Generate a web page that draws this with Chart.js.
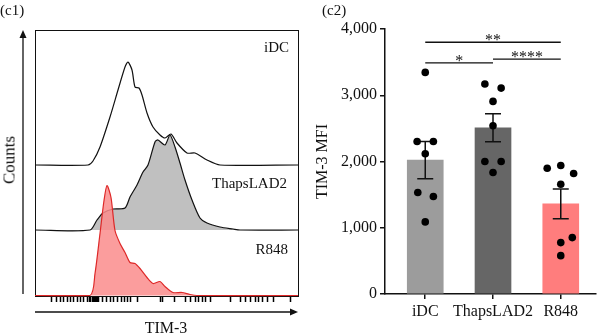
<!DOCTYPE html>
<html>
<head>
<meta charset="utf-8">
<script src="https://cdn.jsdelivr.net/npm/chart.js@4.4.1/dist/chart.umd.min.js"></script>
<style>
  body { margin: 0; background: #fff; }
  #wrap { position: relative; width: 600px; height: 336px; font-family: "Liberation Serif", serif; color: #111; }
  #wrap canvas { position: absolute; top: 0; }
  .lbl { position: absolute; font-size: 15px; line-height: 1; white-space: nowrap; }
</style>
</head>
<body>
<div id="wrap">
  <canvas id="histGraph" width="300" height="336" style="left:0"></canvas>
  <canvas id="mfiGraph" width="300" height="336" style="left:300px"></canvas>
  <div class="lbl" style="left:0;top:3px">(c1)</div>
  <div class="lbl" style="left:322px;top:3px">(c2)</div>
  <div class="lbl" style="left:9px;top:160px;font-size:17px;transform:translate(-50%,-50%) rotate(-90deg)">Counts</div>
  <div class="lbl" style="left:166px;top:328px;font-size:16px;transform:translate(-50%,-50%)">TIM-3</div>
  <div class="lbl" style="right:311px;top:40px">iDC</div>
  <div class="lbl" style="right:313px;top:176px">ThapsLAD2</div>
  <div class="lbl" style="right:312px;top:242px">R848</div>
</div>
<script>
// ---- (c1) histogram data: channel vs counts ----
const channel_iDC = [0, 53, 58, 65, 75, 83, 90, 93, 97, 100, 104, 107, 112, 118, 125, 130, 136, 142, 152, 160, 172, 185, 263];
const counts_iDC  = [0, 0, 4, 18, 48, 75, 98, 103, 95, 78, 77, 70, 52, 38, 30, 27, 31, 22, 12, 12, 5, 0, 0];
const channel_Thaps = [0, 55, 62, 68, 78, 90, 95, 102, 108, 113, 120, 123, 130, 135, 140, 145, 150, 157, 165, 172, 185, 198, 205, 263];
const counts_Thaps  = [0, 0, 10, 17, 21, 22, 33, 45, 58, 65, 88, 90, 85, 95, 83, 67, 50, 30, 12, 7, 3, 1, 0, 0];
const channel_R848 = [0, 55, 60, 65, 69, 72, 76, 80, 85, 90, 95, 100, 105, 112, 118, 125, 130, 138, 147, 155, 162, 263];
const counts_R848  = [0, 0, 22, 62, 95, 110, 98, 65, 52, 43, 33, 32, 27, 18, 12, 14, 9, 3, 3, 1, 0, 0];
const tickMarks = [16, 21, 25, 28, 32, 35, 38, 42, 45, 48, 52, 54, 55.5, 57, 58, 59, 60, 61, 62, 63, 67, 71, 75, 78, 82, 86, 89, 92, 95, 102, 125, 127, 139, 150, 155, 160, 163, 167, 170, 175, 195, 205, 210, 215, 220, 223, 227, 232, 238, 255];

// ---- (c2) bar data ----
const groups = ['iDC', 'ThapsLAD2', 'R848'];
const meanMFI = [2020, 2510, 1360];
const semMFI = [282, 212, 225];
const mfi_iDC   = [3345, 2302, 2302, 2116, 1531, 1471, 1088];
const mfi_Thaps = [3169, 3108, 2907, 2539, 2000, 2000, 1834];
const mfi_R848  = [1899, 1939, 1818, 1657, 851, 776, 579];
const yTicks = [0, 1000, 2000, 3000, 4000];
const sigPairs = [[0, 2, 3800, '**'], [0, 1, 3490, '*'], [1, 2, 3545, '****']];

// layout only: vertical offset of each histogram, horizontal jitter of dots
const histOffsets = [131, 66, 0.5];
const jitter_iDC   = [0, -0.12, 0.12, 0, -0.11, 0.12, 0];
const jitter_Thaps = [-0.12, 0.12, 0, 0, -0.12, 0.12, 0];
const jitter_R848  = [-0.2, 0, 0.19, 0, 0.17, 0, 0];

const SERIF = '"Liberation Serif", serif';

function toPoints(ch, counts, offset) {
  return ch.map((c, i) => ({ x: c, y: offset + counts[i] }));
}

const histFrame = {
  id: 'histFrame',
  beforeDatasetsDraw(chart) {
    const { ctx, chartArea: a } = chart;
    ctx.save();
    ctx.strokeStyle = '#111';
    ctx.lineWidth = 1;
    ctx.strokeRect(a.left + 0.5, a.top + 0.5, a.right - a.left, a.bottom - a.top);
    ctx.restore();
  },
  afterDraw(chart) {
    const { ctx, chartArea: a } = chart;
    ctx.save();
    ctx.strokeStyle = '#111';
    ctx.fillStyle = '#111';
    ctx.lineWidth = 1.3;
    // y arrow
    ctx.beginPath();
    ctx.moveTo(23, a.bottom - 2);
    ctx.lineTo(23, a.top + 6);
    ctx.stroke();
    ctx.beginPath();
    ctx.moveTo(23, a.top);
    ctx.lineTo(19.5, a.top + 8);
    ctx.lineTo(26.5, a.top + 8);
    ctx.closePath();
    ctx.fill();
    // x arrow
    ctx.beginPath();
    ctx.moveTo(a.left, 312);
    ctx.lineTo(a.right - 6, 312);
    ctx.stroke();
    ctx.beginPath();
    ctx.moveTo(a.right, 312);
    ctx.lineTo(a.right - 8, 308.5);
    ctx.lineTo(a.right - 8, 315.5);
    ctx.closePath();
    ctx.fill();
    ctx.restore();
  }
};

new Chart(document.getElementById('histGraph'), {
  type: 'line',
  data: {
    datasets: [{
      label: 'R848',
      data: toPoints(channel_R848, counts_R848, histOffsets[2]),
      borderColor: 'rgb(222, 40, 40)',
      backgroundColor: 'rgba(250, 140, 140, 0.85)',
      borderWidth: 1.2,
      fill: { value: histOffsets[2] },
      order: 0
    }, {
      label: 'ThapsLAD2',
      data: toPoints(channel_Thaps, counts_Thaps, histOffsets[1]),
      borderColor: '#111',
      backgroundColor: 'rgb(192, 192, 192)',
      borderWidth: 1.2,
      fill: { value: histOffsets[1] },
      order: 1
    }, {
      label: 'iDC',
      data: toPoints(channel_iDC, counts_iDC, histOffsets[0]),
      borderColor: '#111',
      borderWidth: 1.2,
      fill: false,
      order: 2
    }]
  },
  options: {
    responsive: false,
    animation: false,
    clip: false,
    elements: { point: { radius: 0 }, line: { tension: 0.25 } },
    layout: { padding: { left: 35, right: 2, top: 30, bottom: 34 } },
    plugins: { legend: { display: false }, tooltip: { enabled: false } },
    scales: {
      x: {
        type: 'linear',
        min: 0,
        max: 263,
        afterBuildTicks: (axis) => { axis.ticks = tickMarks.map(v => ({ value: v })); },
        border: { display: false },
        grid: { drawOnChartArea: false, drawTicks: true, tickLength: 6, tickColor: '#000', tickWidth: 1.5 },
        ticks: { display: false }
      },
      y: { display: false, min: 0, max: 266 }
    }
  },
  plugins: [histFrame]
});

const mfiOverlay = {
  id: 'mfiOverlay',
  afterDatasetDraw(chart, args) {
    if (args.index !== 0) return;
    const { ctx, scales: { x, y } } = chart;
    ctx.save();
    ctx.strokeStyle = '#111';
    ctx.lineWidth = 1.5;
    meanMFI.forEach((m, i) => {
      const cx = x.getPixelForValue(i);
      const top = y.getPixelForValue(m + semMFI[i]);
      const bot = y.getPixelForValue(m - semMFI[i]);
      ctx.beginPath();
      ctx.moveTo(cx, top); ctx.lineTo(cx, bot);
      ctx.moveTo(cx - 8, top); ctx.lineTo(cx + 8, top);
      ctx.moveTo(cx - 8, bot); ctx.lineTo(cx + 8, bot);
      ctx.stroke();
    });
    ctx.restore();
  },
  afterDraw(chart) {
    const { ctx, scales: { x, y } } = chart;
    ctx.save();
    ctx.strokeStyle = '#111';
    ctx.fillStyle = '#111';
    ctx.lineWidth = 1.3;
    ctx.font = '16px ' + SERIF;
    ctx.textAlign = 'center';
    ctx.textBaseline = 'alphabetic';
    sigPairs.forEach(([a, b, v, stars]) => {
      const x1 = x.getPixelForValue(a), x2 = x.getPixelForValue(b);
      const py = y.getPixelForValue(v);
      ctx.beginPath();
      ctx.moveTo(x1, py); ctx.lineTo(x2, py);
      ctx.stroke();
      ctx.fillText(stars, (x1 + x2) / 2, py + 3);
    });
    ctx.restore();
  }
};

function dots(values, jit, g) {
  return values.map((v, i) => ({ x: g + jit[i], y: v }));
}

new Chart(document.getElementById('mfiGraph'), {
  type: 'bar',
  data: {
    datasets: [{
      label: 'mean',
      data: meanMFI.map((m, i) => ({ x: i, y: m })),
      backgroundColor: ['rgb(156, 156, 156)', 'rgb(102, 102, 102)', 'rgb(255, 125, 125)'],
      barThickness: 36,
      order: 2
    }, {
      type: 'scatter',
      label: 'donors',
      data: [...dots(mfi_iDC, jitter_iDC, 0), ...dots(mfi_Thaps, jitter_Thaps, 1), ...dots(mfi_R848, jitter_R848, 2)],
      backgroundColor: '#000',
      borderWidth: 0,
      pointRadius: 3.8,
      order: 0
    }]
  },
  options: {
    responsive: false,
    animation: false,
    layout: { padding: { left: 0, right: 0, top: 29, bottom: 0 } },
    plugins: { legend: { display: false }, tooltip: { enabled: false } },
    scales: {
      x: {
        type: 'linear',
        offset: false,
        min: -0.594,
        max: 2.52,
        afterBuildTicks: (axis) => { axis.ticks = groups.map((g, i) => ({ value: i })); },
        afterFit: (axis) => { axis.height = 42; },
        border: { color: '#111', width: 1.5 },
        grid: { offset: false, drawOnChartArea: false, tickLength: 5, color: '#111', lineWidth: 1.5 },
        ticks: {
          color: '#111',
          padding: 3,
          maxRotation: 0,
          autoSkip: false,
          font: { family: SERIF, size: 16 },
          callback: (v) => groups[v]
        }
      },
      y: {
        min: 0,
        max: 4000,
        afterBuildTicks: (axis) => { axis.ticks = yTicks.map(v => ({ value: v })); },
        afterFit: (axis) => { axis.width = 85; },
        border: { color: '#111', width: 1.5 },
        grid: { drawOnChartArea: false, tickLength: 5, color: '#111', lineWidth: 1.5 },
        ticks: {
          color: '#111',
          padding: 3,
          font: { family: SERIF, size: 16 },
          callback: (v) => v.toLocaleString('en-US')
        },
        title: {
          display: true,
          text: 'TIM-3 MFI',
          color: '#111',
          font: { family: SERIF, size: 16 },
          padding: { top: 13, bottom: 0 }
        }
      }
    }
  },
  plugins: [mfiOverlay]
});
</script>
</body>
</html>
